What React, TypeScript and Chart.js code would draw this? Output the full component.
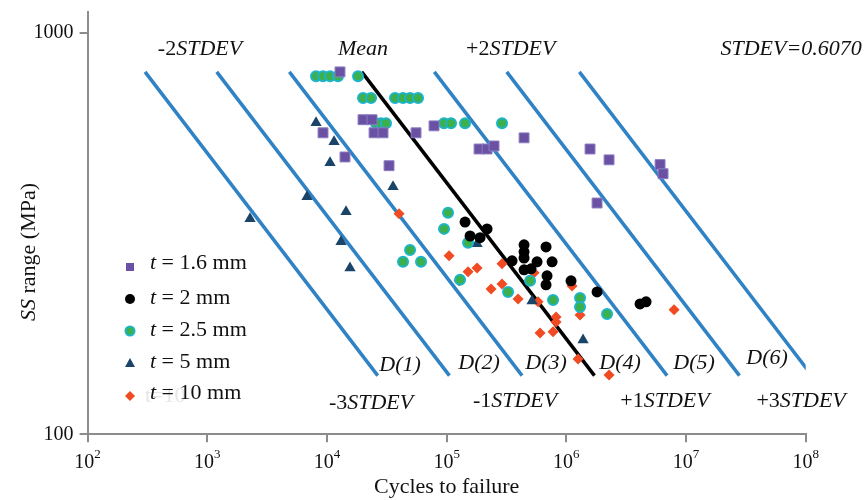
import React, { useEffect, useRef } from 'react';
import { Chart, registerables } from 'chart.js';

Chart.register(...registerables);

// ---------- axis settings ----------
const xTickExps = [2, 3, 4, 5, 6, 7, 8];
const yTickValues = [100, 1000];
const X_MIN = 100;
const X_MAX = 1e8;
const Y_MIN = 100;
const Y_MAX = 1130;

// ---------- S-N design lines (Mean ± k·STDEV) ----------
const lineNames = ['-3', '-2', '-1', 'Mean', '+1', '+2', '+3'];
const lineTopN = [302, 1199, 4849, 19520, 78900, 317800, 1285000];
const lineBottomN = [26560, 105500, 426600, 1718000, 6942000, 27960000, 113000000];
const lineTopS = 800;
const lineBottomS = 140;

// ---------- test data ----------
const t16N = [12850, 20010, 23800, 9270, 24740, 29400, 55500, 78460, 14150, 33010, 186500, 217600, 248900, 443400, 1578000, 2275000, 6070000, 6430000, 1806000];
const t16S = [800, 608, 608, 564, 564, 564, 564, 587, 491, 467, 514, 514, 523, 548, 514, 483, 470, 446, 377];

const t2N = [142500, 217600, 156900, 190100, 352000, 443400, 443400, 443400, 676800, 569200, 760000, 443400, 507300, 690000, 676800, 1095000, 1806000, 4130000, 4637000];
const t2S = [338, 325, 312, 309, 270.5, 296.6, 285, 275, 293, 269, 269, 256.9, 258.4, 248.2, 235.7, 241.2, 226.4, 211.3, 213.8];

const t25N = [8104, 9270, 10610, 12370, 18180, 20010, 23350, 37040, 43210, 49450, 57670, 25700, 28290, 31140, 95100, 108800, 142500, 290200, 102700, 95100, 151000, 49450, 43210, 61100, 129400, 325900, 497700, 774700, 1302000, 1302000, 2189000];
const t25S = [780, 780, 780, 780, 780, 688.5, 688.5, 688.5, 688.5, 688.5, 688.5, 596, 596, 596, 596, 596, 596, 596, 356.4, 325, 300, 288, 269, 269, 242.6, 226.4, 241.2, 216.2, 218.7, 207.7, 199.5];

const t5N = [8104, 11460, 10610, 35650, 6814, 14430, 2276, 13110, 15580, 179500, 517200, 1380000];
const t5S = [597.4, 535.6, 475, 413.7, 390.6, 358.4, 344.3, 301.8, 259.8, 298.3, 215, 171.9];

const t10N = [40010, 104700, 126900, 151000, 179500, 290200, 537500, 234900, 290200, 395000, 580300, 1116000, 820600, 820600, 603100, 774700, 1302000, 1253000, 2275000, 7945000];
const t10S = [354.3, 278.4, 241.2, 254, 259.8, 265.9, 252.5, 230.3, 237, 217.5, 213.8, 234.3, 196.1, 190.5, 178.9, 180, 198.4, 154.1, 140.6, 204.2];

const legendThickness = ['1.6', '2', '2.5', '5', '10'];

// ---------- annotation labels ----------
type Run = { t: string; it?: boolean };
const annoTexts: Run[][] = [
  [{ t: '-2' }, { t: 'STDEV', it: true }],
  [{ t: 'Mean', it: true }],
  [{ t: '+2' }, { t: 'STDEV', it: true }],
  [{ t: 'STDEV=0.6070', it: true }],
  [{ t: 'D(1)', it: true }],
  [{ t: 'D(2)', it: true }],
  [{ t: 'D(3)', it: true }],
  [{ t: 'D(4)', it: true }],
  [{ t: 'D(5)', it: true }],
  [{ t: 'D(6)', it: true }],
  [{ t: '-3' }, { t: 'STDEV', it: true }],
  [{ t: '-1' }, { t: 'STDEV', it: true }],
  [{ t: '+1' }, { t: 'STDEV', it: true }],
  [{ t: '+3' }, { t: 'STDEV', it: true }],
];
const annoN = [869.6, 20010, 343200, 75470000, 40780, 186500, 676800, 2811000, 11680000, 47570000, 23350, 372800, 6680000, 91500000];
const annoS = [908.6, 908.6, 908.6, 908.6, 148.9, 150.6, 150.6, 150.6, 150.6, 155, 119.7, 121.1, 121.1, 121.1];

const FAMILY = '"Liberation Serif", "Times New Roman", serif';
const font = (size: number, it?: boolean) => `${it ? 'italic ' : ''}${size}px ${FAMILY}`;

const COLORS = {
  purple: '#6a51a3',
  purpleEdge: '#8b7cc0',
  black: '#000000',
  green: '#3cb04a',
  cyan: '#1db4c9',
  navy: '#1b4469',
  red: '#f04b22',
  blue: '#2f82c4',
  axis: '#8c8c8c',
  text: '#111111',
};

function drawRuns(ctx: CanvasRenderingContext2D, runs: Run[], x: number, y: number, size: number, align: 'center' | 'left') {
  let total = 0;
  const widths = runs.map((r) => {
    ctx.font = font(size, r.it);
    const w = ctx.measureText(r.t).width;
    total += w;
    return w;
  });
  let cx = align === 'center' ? x - total / 2 : x;
  ctx.textAlign = 'left';
  ctx.textBaseline = 'middle';
  runs.forEach((r, i) => {
    ctx.font = font(size, r.it);
    ctx.fillText(r.t, cx, y);
    cx += widths[i];
  });
}

function drawMarker(ctx: CanvasRenderingContext2D, kind: number, x: number, y: number) {
  ctx.save();
  ctx.beginPath();
  if (kind === 0) {
    ctx.fillStyle = COLORS.purple;
    ctx.fillRect(x - 4, y - 4, 8, 8);
  } else if (kind === 1) {
    ctx.fillStyle = COLORS.black;
    ctx.arc(x, y, 5, 0, Math.PI * 2);
    ctx.fill();
  } else if (kind === 2) {
    ctx.fillStyle = COLORS.green;
    ctx.strokeStyle = COLORS.cyan;
    ctx.lineWidth = 2;
    ctx.arc(x, y, 4.5, 0, Math.PI * 2);
    ctx.fill();
    ctx.stroke();
  } else if (kind === 3) {
    ctx.fillStyle = COLORS.navy;
    ctx.moveTo(x, y - 5);
    ctx.lineTo(x + 5, y + 4);
    ctx.lineTo(x - 5, y + 4);
    ctx.closePath();
    ctx.fill();
  } else {
    ctx.fillStyle = COLORS.red;
    ctx.moveTo(x, y - 5);
    ctx.lineTo(x + 5, y);
    ctx.lineTo(x, y + 5);
    ctx.lineTo(x - 5, y);
    ctx.closePath();
    ctx.fill();
  }
  ctx.restore();
}

const textPlugin = {
  id: 'textPlugin',
  afterDraw(chart: any) {
    const ctx: CanvasRenderingContext2D = chart.ctx;
    const xs = chart.scales.x;
    const ys = chart.scales.y;
    const area = chart.chartArea;
    ctx.save();
    ctx.fillStyle = COLORS.text;

    // x tick labels with superscript exponents
    xTickExps.forEach((e) => {
      const px = xs.getPixelForValue(Math.pow(10, e));
      ctx.font = font(20);
      const w1 = ctx.measureText('10').width;
      ctx.font = font(13);
      const w2 = ctx.measureText(String(e)).width;
      const start = px - (w1 + w2) / 2;
      ctx.textAlign = 'left';
      ctx.textBaseline = 'middle';
      ctx.font = font(20);
      ctx.fillText('10', start, area.bottom + 28);
      ctx.font = font(13);
      ctx.fillText(String(e), start + w1, area.bottom + 20);
    });

    // axis titles
    drawRuns(ctx, [{ t: 'Cycles to failure' }], (area.left + area.right) / 2, area.bottom + 53, 22, 'center');
    ctx.save();
    ctx.translate(29, 252);
    ctx.rotate(-Math.PI / 2);
    drawRuns(ctx, [{ t: 'SS', it: true }, { t: ' range (MPa)' }], 0, 0, 22, 'center');
    ctx.restore();

    // annotations
    annoTexts.forEach((runs, i) => {
      drawRuns(ctx, runs, xs.getPixelForValue(annoN[i]), ys.getPixelForValue(annoS[i]), 22, 'center');
    });

    // faint ghost text
    ctx.fillStyle = '#e6e6e6';
    drawRuns(ctx, [{ t: 't=10' }], 145, 396, 22, 'left');

    // legend
    ctx.fillStyle = COLORS.text;
    const rowY = [263, 298, 330, 362, 393];
    const markerDy = [4, 1, 1, 1, 3];
    legendThickness.forEach((th, i) => {
      drawMarker(ctx, i, 130, rowY[i] + markerDy[i]);
      ctx.fillStyle = COLORS.text;
      drawRuns(ctx, [{ t: 't', it: true }, { t: ` = ${th} mm` }], 150, rowY[i], 22, 'left');
    });
    ctx.restore();
  },
};

function pts(n: number[], s: number[]) {
  return n.map((v, i) => ({ x: v, y: s[i] }));
}

export default function App() {
  const ref = useRef<HTMLCanvasElement | null>(null);
  useEffect(() => {
    if (!ref.current) return;
    const lineSets = lineNames.map((name, i) => ({
      label: name,
      data: [
        { x: lineTopN[i], y: lineTopS },
        { x: lineBottomN[i], y: lineBottomS },
      ],
      showLine: true,
      borderColor: name === 'Mean' ? '#000000' : COLORS.blue,
      borderWidth: 3.5,
      pointRadius: 0,
      order: 2,
    }));
    const pointSets = [
      { label: 't = 1.6 mm', data: pts(t16N, t16S), pointStyle: 'rect', pointRadius: 7, backgroundColor: COLORS.purple, borderColor: COLORS.purpleEdge, borderWidth: 1, order: 1 },
      { label: 't = 2 mm', data: pts(t2N, t2S), pointStyle: 'circle', pointRadius: 5.5, backgroundColor: COLORS.black, borderColor: COLORS.black, borderWidth: 0, order: 1 },
      { label: 't = 2.5 mm', data: pts(t25N, t25S), pointStyle: 'circle', pointRadius: 5, backgroundColor: COLORS.green, borderColor: COLORS.cyan, borderWidth: 2, order: 1 },
      { label: 't = 5 mm', data: pts(t5N, t5S), pointStyle: 'triangle', pointRadius: 6.5, backgroundColor: COLORS.navy, borderColor: COLORS.navy, borderWidth: 0, order: 1 },
      { label: 't = 10 mm', data: pts(t10N, t10S), pointStyle: 'rectRot', pointRadius: 5.5, backgroundColor: COLORS.red, borderColor: COLORS.red, borderWidth: 0, order: 1 },
    ];
    const axisGrid = { display: true, drawOnChartArea: false, drawTicks: true, tickLength: 8, color: COLORS.axis, lineWidth: 2 };
    const axisBorder = { display: true, color: COLORS.axis, width: 2 };
    const chart = new Chart(ref.current, {
      type: 'scatter',
      data: { datasets: [...pointSets, ...lineSets] as any },
      options: {
        animation: false,
        responsive: false,
        devicePixelRatio: 1,
        layout: { padding: { left: 0, right: 59.3, top: 11.7, bottom: 0 } },
        plugins: { legend: { display: false }, tooltip: { enabled: false } },
        scales: {
          x: {
            type: 'logarithmic',
            min: X_MIN,
            max: X_MAX,
            afterBuildTicks: (s: any) => {
              s.ticks = xTickExps.map((e) => ({ value: Math.pow(10, e) }));
            },
            afterFit: (s: any) => {
              s.height = 65.7;
            },
            ticks: { callback: () => '', autoSkip: false, maxRotation: 0 },
            grid: axisGrid,
            border: axisBorder,
          },
          y: {
            type: 'logarithmic',
            min: Y_MIN,
            max: Y_MAX,
            afterBuildTicks: (s: any) => {
              s.ticks = yTickValues.map((v) => ({ value: v }));
            },
            afterFit: (s: any) => {
              s.width = 87.6;
            },
            ticks: {
              callback: (v: any) => String(v),
              autoSkip: false,
              font: { family: FAMILY, size: 20, lineHeight: 0.5 },
              color: COLORS.text,
              padding: 6,
            },
            grid: axisGrid,
            border: axisBorder,
          },
        },
      } as any,
      plugins: [textPlugin],
    });
    return () => chart.destroy();
  }, []);
  return (
    <div style={{ position: 'fixed', left: 0, top: 0, width: 865, height: 500, background: '#fff' }}>
      <canvas ref={ref} width={865} height={500} style={{ display: 'block' }} />
    </div>
  );
}
